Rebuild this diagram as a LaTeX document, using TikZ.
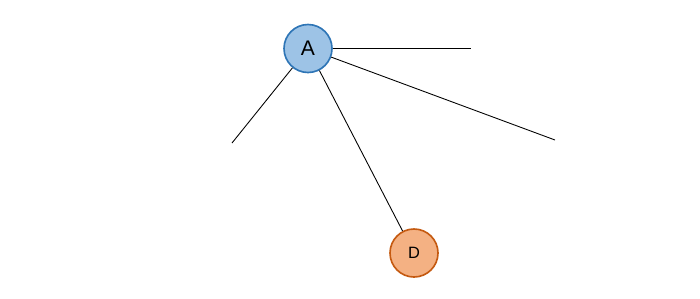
\documentclass[tikz,border=0pt]{standalone}
\usepackage{fontspec}
\setmainfont{Liberation Sans}
\usepackage{xcolor}
\usetikzlibrary{calc,positioning}
\definecolor{nodeblue}{HTML}{9DC3E6}
\definecolor{edgeblue}{HTML}{2E75B6}
\definecolor{nodeorange}{HTML}{F4B183}
\definecolor{edgeorange}{HTML}{C55A11}
\newlength{\pxunit}
\setlength{\pxunit}{0.03cm}
\tikzset{
  vertex/.style={circle,minimum size=48\pxunit,inner sep=0pt,line width=1.4pt},
  link/.style={black,line width=0.75pt}
}

\begin{document}
\begin{tikzpicture}[x=0.03cm,y=-0.03cm]
\useasboundingbox (0,0) rectangle (700,298);
% Nodes
\node[vertex,fill=nodeblue,draw=edgeblue,font=\fontsize{18}{21}\selectfont] (A) at (308,48.5) {A};
\node[vertex,fill=nodeorange,draw=edgeorange,font=\fontsize{14}{17}\selectfont] (D) at (414,253) {D};
% Free ends
\coordinate (e1) at (471,48.5);
\coordinate (e2) at (232,143);
\coordinate (e3) at (555,140);
% Edges
\foreach \t in {e1,e2,e3,D}{%
  \draw[link] (A) -- (\t);
}
\end{tikzpicture}
\end{document}
